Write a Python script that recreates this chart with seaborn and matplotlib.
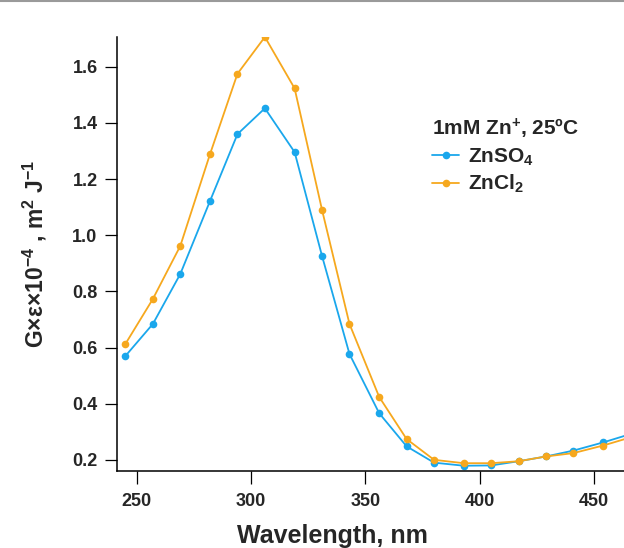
import matplotlib
matplotlib.use("Agg")
import matplotlib.pyplot as plt
import seaborn as sns
import pandas as pd
from matplotlib.lines import Line2D

wavelength = [245, 257, 269, 282, 294, 306, 319, 331, 343, 356, 368, 380, 393, 405, 417, 429, 441, 454, 466]
znso4 = [0.570, 0.684, 0.862, 1.122, 1.360, 1.452, 1.296, 0.926, 0.577, 0.366, 0.248, 0.190, 0.179, 0.180, 0.195, 0.212, 0.233, 0.262, 0.292]
zncl2 = [0.613, 0.773, 0.962, 1.289, 1.575, 1.706, 1.523, 1.090, 0.684, 0.424, 0.274, 0.200, 0.188, 0.188, 0.195, 0.212, 0.224, 0.251, 0.280]
series_names = ["ZnSO$_4$", "ZnCl$_2$"]
colors = ["#1AA7EC", "#F6A81E"]
xticks = [250, 300, 350, 400, 450]
yticks = [0.2, 0.4, 0.6, 0.8, 1.0, 1.2, 1.4, 1.6]

df = pd.DataFrame({
    "wl": wavelength * 2,
    "val": znso4 + zncl2,
    "salt": [series_names[0]] * len(wavelength) + [series_names[1]] * len(wavelength),
})

sns.set_theme(style="ticks")
plt.rcParams["font.family"] = ["Liberation Sans", "DejaVu Sans"]
plt.rcParams["font.weight"] = "bold"
plt.rcParams["mathtext.fontset"] = "custom"
plt.rcParams["mathtext.rm"] = "Liberation Sans:bold"
plt.rcParams["mathtext.bf"] = "Liberation Sans:bold"
plt.rcParams["mathtext.it"] = "Liberation Sans:bold:italic"
plt.rcParams["mathtext.default"] = "bf"

fig = plt.figure(figsize=(6.24, 5.48), dpi=100)
ax = fig.add_axes([117 / 624, 1 - 470.5 / 548, 1 - 117 / 624, (470.5 - 36.7) / 548])

sns.lineplot(data=df, x="wl", y="val", hue="salt", palette=colors, marker="o",
             markersize=5.5, markeredgewidth=0, linewidth=1.3, ax=ax, legend=True)

ax.set_xlim(241.3, 463.1)
ax.set_ylim(0.162, 1.707)
ax.set_xticks(xticks)
ax.set_yticks(yticks)
ax.set_yticklabels([f"{v:.1f}" for v in yticks])
for s in ["top", "right"]:
    ax.spines[s].set_visible(False)
for s in ["left", "bottom"]:
    ax.spines[s].set_linewidth(1.1)
    ax.spines[s].set_color("black")
ax.tick_params(axis="both", length=9, width=0.9, color="black", labelsize=13)
ax.tick_params(axis="x", pad=7)
ax.tick_params(axis="y", pad=5)
for lab in ax.get_xticklabels() + ax.get_yticklabels():
    lab.set_fontweight("bold")

ax.set_xlabel("Wavelength, nm", fontsize=18, fontweight="bold")
ax.xaxis.set_label_coords((332 - 117) / (624 - 117), -0.124)
ax.set_ylabel("G×ε×10$^{-4}$ , m$^{2}$ J$^{-1}$", fontsize=16.5, fontweight="bold")
ax.yaxis.set_label_coords(-0.134, 0.5)

handles, labels = ax.get_legend_handles_labels()
leg = ax.legend(handles, labels, title="1mM Zn$^{+}$, 25ºC", frameon=False,
                loc="upper left", bbox_to_anchor=((432 - 117) / 507, (470.5 - 117) / 433.8),
                fontsize=15, title_fontproperties={"weight": "bold", "size": 15},
                handlelength=1.3, handletextpad=0.45, labelspacing=0.25, alignment="left",
                borderpad=0, borderaxespad=0)
for t in leg.get_texts():
    t.set_fontweight("bold")

fig.add_artist(Line2D([0, 1], [0.998, 0.998], transform=fig.transFigure, color="#9a9a9a", linewidth=1.5))

fig.savefig("out.png", dpi=100)
